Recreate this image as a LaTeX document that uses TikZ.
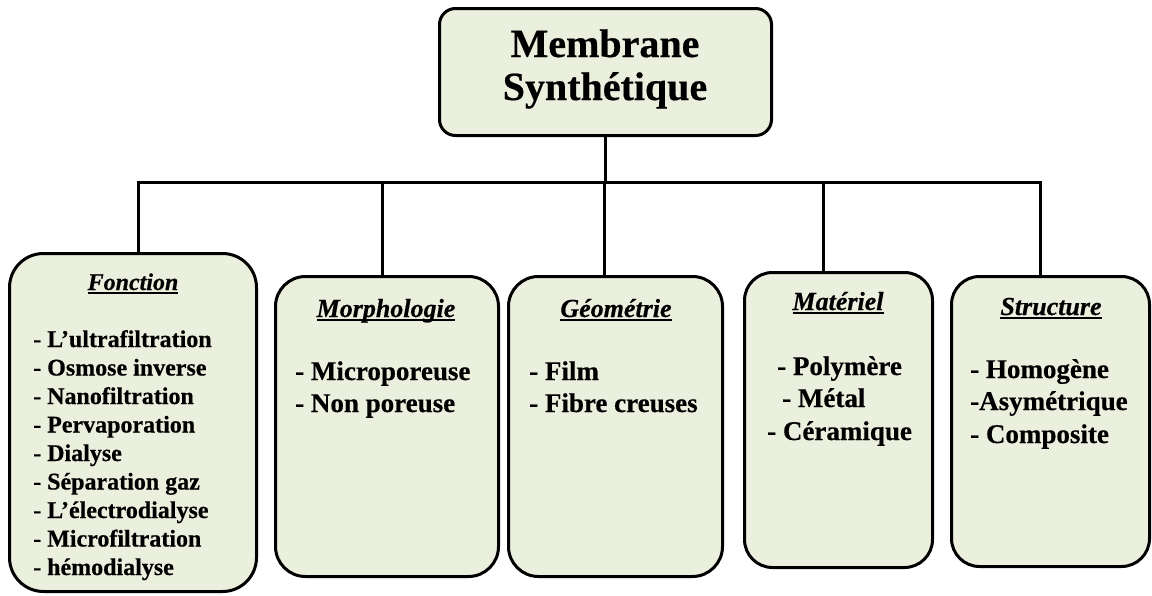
\documentclass[tikz,border=0pt]{standalone}
\usepackage{fontspec}
\setmainfont{Liberation Serif}[BoldFeatures={FakeBold=0.5},BoldItalicFeatures={FakeBold=0.5}]
\definecolor{boxfill}{RGB}{235,239,222}
\newcommand\myul[1]{\setbox0\hbox{#1}\rlap{\rule[-4pt]{\wd0}{2pt}}\box0}
\begin{document}
\begin{tikzpicture}[x=1pt,y=-1pt,
  box/.style={draw=black, line width=3pt, fill=boxfill, outer sep=0pt, inner sep=0pt, anchor=north west},
  conn/.style={draw=black, line width=3pt},
  title/.style={font=\fontsize{40}{44}\selectfont\bfseries, anchor=base, inner sep=0pt},
  headA/.style={font=\fontsize{24}{28}\selectfont\bfseries\itshape, anchor=base, inner sep=0pt},
  headB/.style={font=\fontsize{26}{30}\selectfont\bfseries\itshape, anchor=base, inner sep=0pt},
  itemA/.style={font=\fontsize{24}{28}\selectfont\bfseries, anchor=base west, inner sep=0pt},
  itemB/.style={font=\fontsize{27}{30}\selectfont\bfseries, anchor=base west, inner sep=0pt}]
\useasboundingbox (0,0) rectangle (1152,595);
\fill[white] (0,0) rectangle (1152,595);
% boxes
\node[box, rounded corners=16pt, minimum width=332pt, minimum height=127pt] (top) at (439.5,8.5) {};
\node[box, rounded corners=34pt, minimum width=247pt, minimum height=338pt] (fonc) at (9.5,253.5) {};
\node[box, rounded corners=30pt, minimum width=223pt, minimum height=300pt] (morph) at (275.5,276.5) {};
\node[box, rounded corners=30pt, minimum width=214pt, minimum height=300pt] (geo) at (508.5,276.5) {};
\node[box, rounded corners=28pt, minimum width=188pt, minimum height=295pt] (mat) at (744.5,272.5) {};
\node[box, rounded corners=28pt, minimum width=198pt, minimum height=290pt] (struct) at (951.5,276.5) {};
% connectors
\coordinate (d1) at (138,182);
\coordinate (d2) at (382,182);
\coordinate (d3) at (604,182);
\coordinate (d4) at (823,182);
\coordinate (d5) at (1040,182);
\draw[conn] (top.south) -- (top.south |- d1);
\draw[conn, line cap=rect] (d1) -- (d5);
\draw[conn] (d1) -- (d1 |- fonc.north);
\draw[conn] (d2) -- (d2 |- morph.north);
\draw[conn] (d3) -- (d3 |- geo.north);
\draw[conn] (d4) -- (d4 |- mat.north);
\draw[conn] (d5) -- (d5 |- struct.north);
% title
\node[title] (t1) at (605,57) {Membrane};
\node[title] (t2) at (605,100) {Synthétique};
% Fonction
\node[headA] (h1) at (133,290) {\myul{Fonction}};
\node[itemA] (f1) at (33,347) {- L’ultrafiltration};
\node[itemA] (f2) at (33,375.5) {- Osmose inverse};
\node[itemA] (f3) at (33,404) {- Nanofiltration};
\node[itemA] (f4) at (33,432.5) {- Pervaporation};
\node[itemA] (f5) at (33,461) {- Dialyse};
\node[itemA] (f6) at (33,489.5) {- Séparation gaz};
\node[itemA] (f7) at (33,518) {- L’électrodialyse};
\node[itemA] (f8) at (33,546.5) {- Microfiltration};
\node[itemA] (f9) at (33,575) {- hémodialyse};
% Morphologie
\node[headB] (h2) at (386,317) {\myul{Morphologie}};
\node[itemB] (m1) at (295,380) {- Microporeuse};
\node[itemB] (m2) at (295,412) {- Non poreuse};
% Geometrie
\node[headB] (h3) at (616,317) {\myul{Géométrie}};
\node[itemB] (g1) at (529,380) {- Film};
\node[itemB] (g2) at (529,412) {- Fibre creuses};
% Materiel
\node[headB] (h4) at (838,310) {\myul{Matériel}};
\node[itemB] (a1) at (777,375) {- Polymère};
\node[itemB] (a2) at (782,407) {- Métal};
\node[itemB] (a3) at (767,440) {- Céramique};
% Structure
\node[headB] (h5) at (1051,315) {\myul{Structure}};
\node[itemB] (s1) at (970,378) {- Homogène};
\node[itemB] (s2) at (970,410) {-Asymétrique};
\node[itemB] (s3) at (970,443) {- Composite};
\end{tikzpicture}
\end{document}
